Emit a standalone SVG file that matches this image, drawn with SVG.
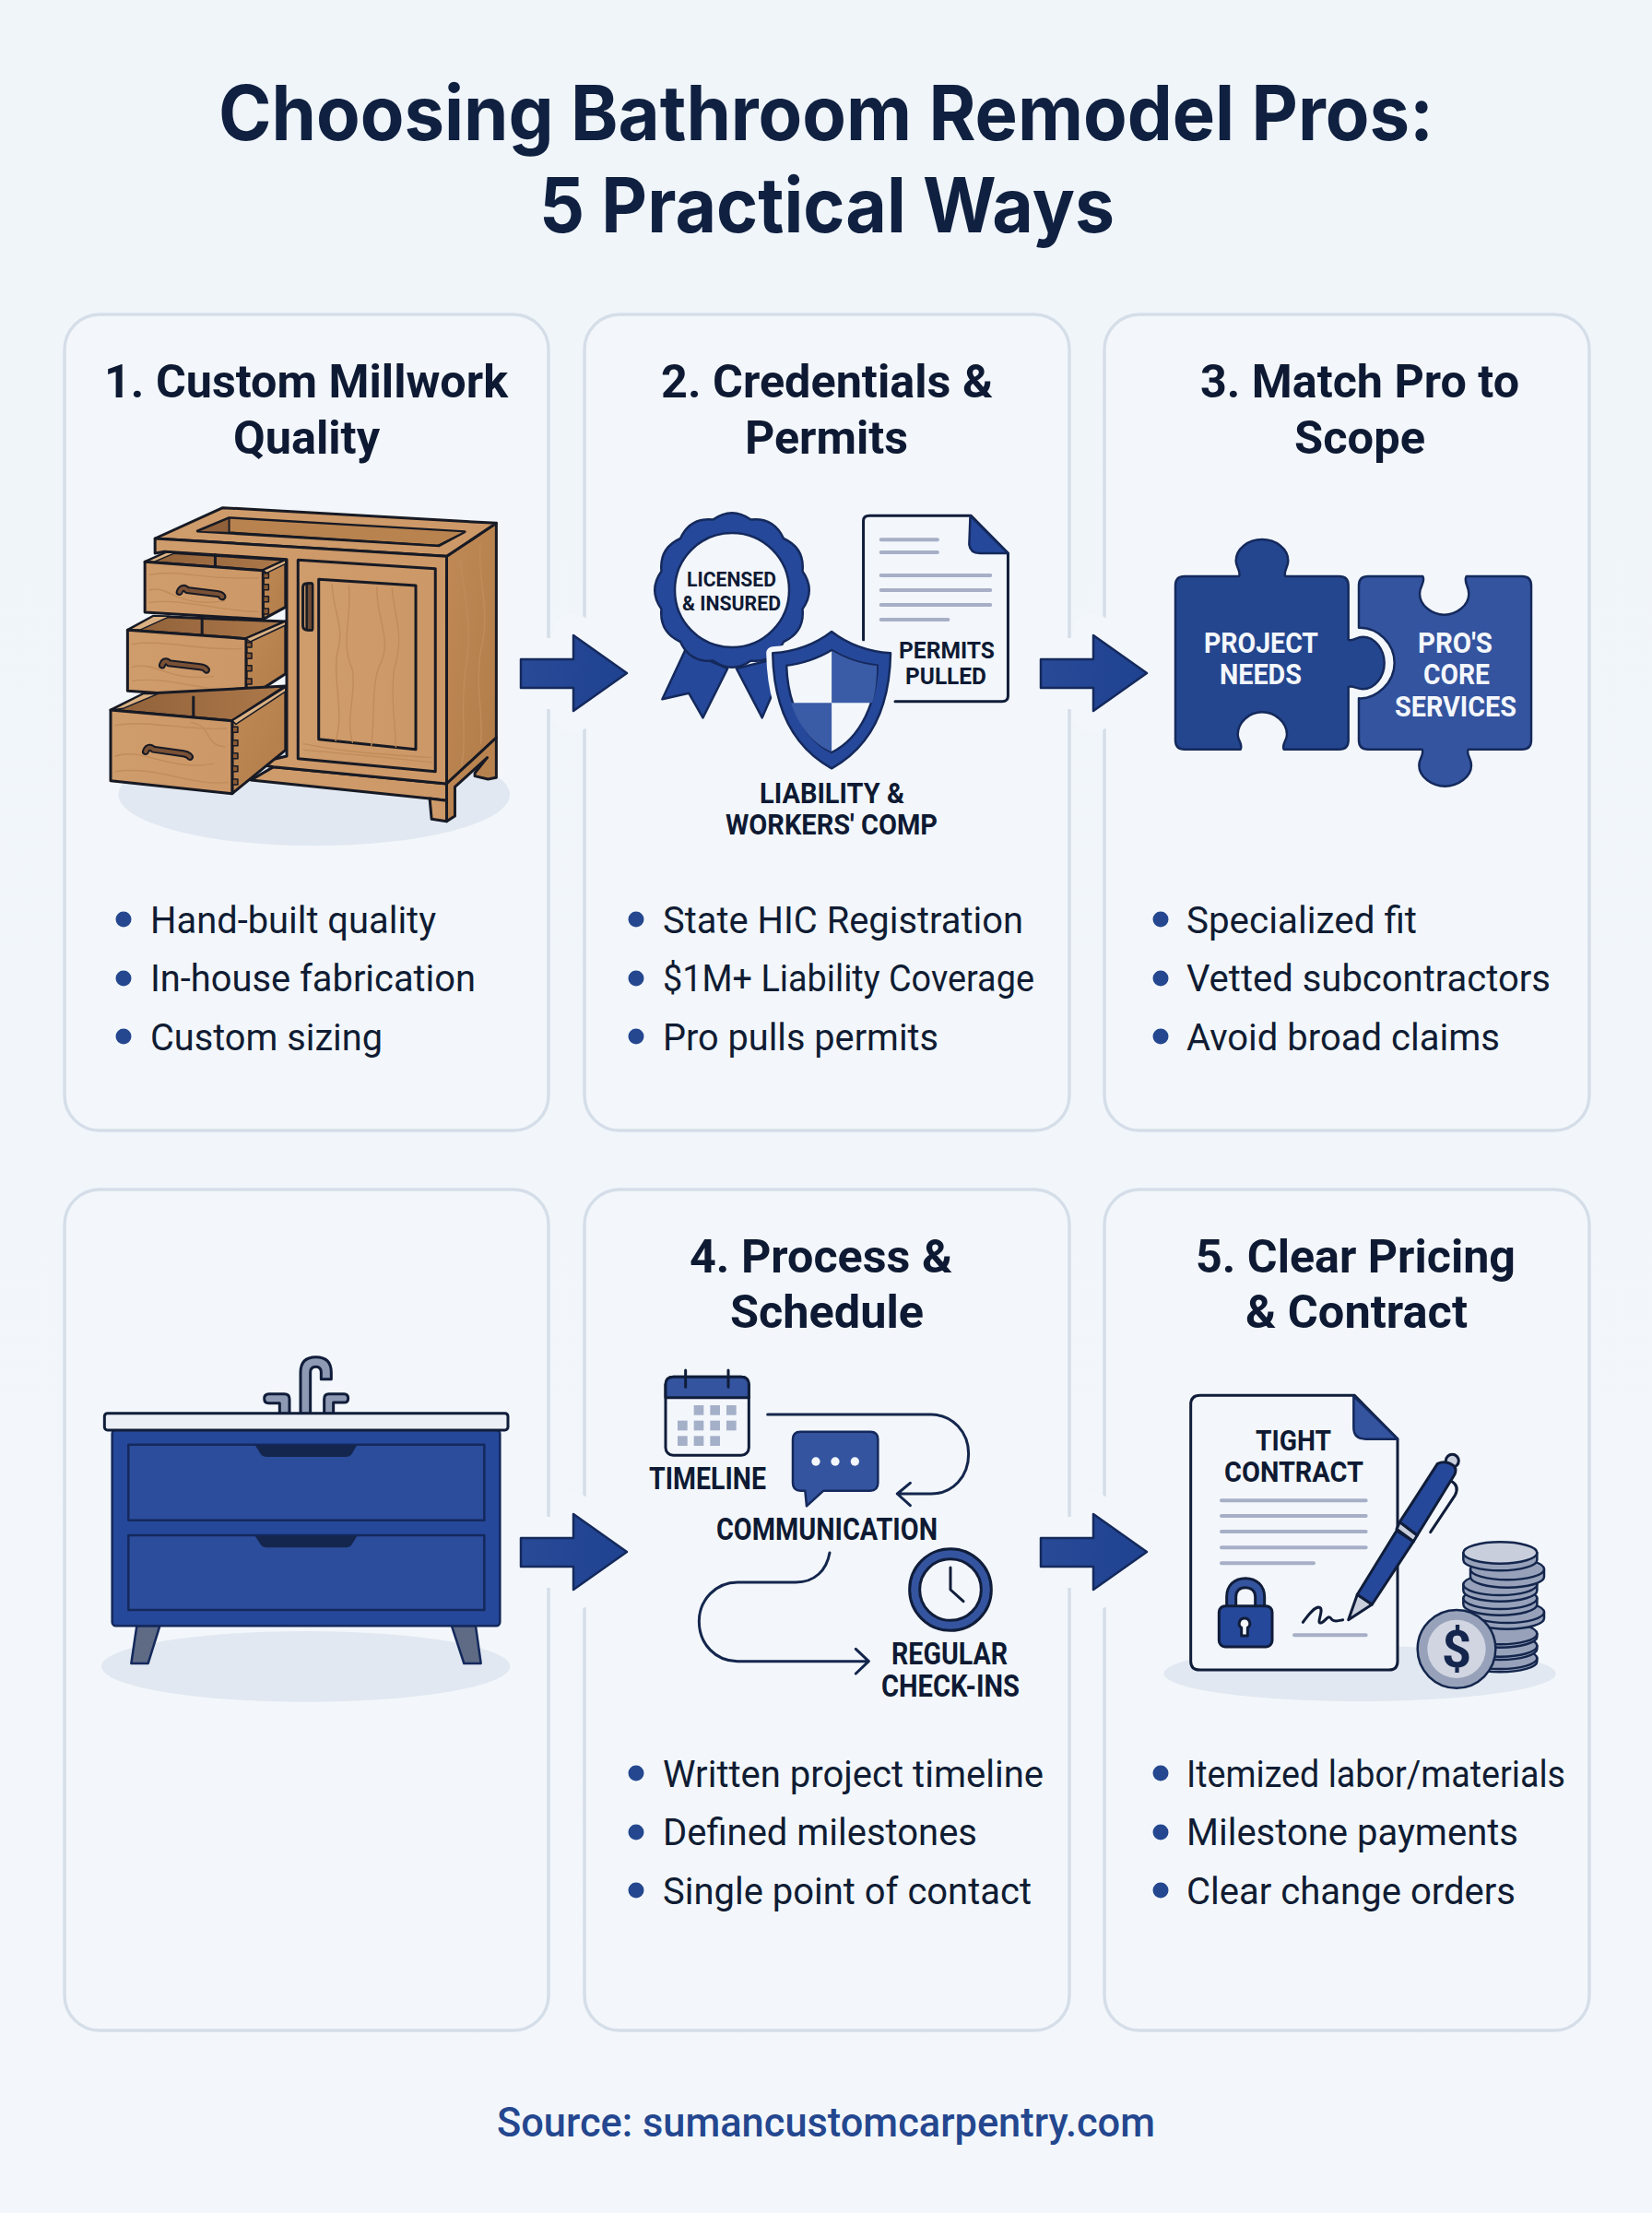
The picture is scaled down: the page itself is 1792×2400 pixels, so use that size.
<svg xmlns="http://www.w3.org/2000/svg" width="1792" height="2400" viewBox="0 0 1792 2400">
<style>
text{font-family:Roboto,"Liberation Sans",sans-serif}
.title{font-family:Inter,Roboto,sans-serif;font-size:82px;font-weight:700;fill:#0f2040}
.h{font-size:50px;font-weight:700;fill:#0e1a33}
.b{font-size:40px;font-weight:400;fill:#101c33}
.l{font-weight:700;fill:#0e1a33}
.w{font-weight:700;fill:#f4f7fb}
.src{font-size:44px;font-weight:500;fill:#24478f}
.card{fill:#f3f7fb;stroke:#d5dee8;stroke-width:3.5}
.dot{fill:#24478f}
.z *{vector-effect:non-scaling-stroke;stroke-linejoin:round;stroke-linecap:round}
.o{stroke:#101d3a;stroke-width:3}
.o2{stroke:#14295c;stroke-width:2.5}
.wood{fill:url(#wood);stroke:#171a24;stroke-width:3}
.wood2{fill:url(#wood2);stroke:#171a24;stroke-width:3}
.dark{fill:url(#inner);stroke:#171a24;stroke-width:3}
.lite{fill:#dcb284;stroke:#171a24;stroke-width:1.5}
.dt{fill:#8a5a34;stroke:#171a24;stroke-width:1.5}
.grain{fill:none;stroke:#c08c5a;stroke-width:1.4}
.blue{fill:#26489a}
.blue2{fill:#34549f}
.paper{fill:#f3f6fb}
.gl{stroke:#a6afc6;stroke-width:4;fill:none}
.sq{fill:#a4afc8}
.flow{fill:none;stroke:#14264d;stroke-width:3}
.shadow{fill:#e1e8f1}
.coin{fill:#97a2ba;stroke:#14264d;stroke-width:2.5}
.arrow{fill:url(#arr);stroke:#14295c;stroke-width:2.5;stroke-linejoin:round}
.halo{fill:#f3f7fb;stroke:#f3f7fb;stroke-width:46;stroke-linejoin:round}
.hnd{fill:none;stroke:#171a24;stroke-width:8}
.hnd2{fill:none;stroke:#7a5136;stroke-width:4}
</style>
<defs>
<linearGradient id="bg" x1="0" y1="0" x2="0" y2="1"><stop offset="0" stop-color="#f0f5fa"/><stop offset="1" stop-color="#f3f7fc"/></linearGradient>
<linearGradient id="wood" x1="0" y1="0" x2="1" y2="0"><stop offset="0" stop-color="#cf9c6b"/><stop offset="1" stop-color="#cd9867"/></linearGradient>
<linearGradient id="wood2" x1="0" y1="0" x2="1" y2="1"><stop offset="0" stop-color="#c08a56"/><stop offset="1" stop-color="#b27c49"/></linearGradient>
<linearGradient id="inner" x1="0" y1="0" x2="1" y2="0"><stop offset="0" stop-color="#8f6039"/><stop offset="1" stop-color="#ad794a"/></linearGradient>
<linearGradient id="arr" x1="0" y1="0" x2="1" y2="0"><stop offset="0" stop-color="#284a97"/><stop offset="1" stop-color="#1f4291"/></linearGradient>
<polygon id="arrowshape" points="0,-15 57,-15 57,-41 115,0 57,41 57,16 0,16"/>
</defs>
<rect width="1792" height="2400" fill="url(#bg)"/>
<g id="title"><text class="title" x="237" y="152" textLength="1318" lengthAdjust="spacingAndGlyphs">Choosing Bathroom Remodel Pros:</text>
<text class="title" x="585" y="252" textLength="624" lengthAdjust="spacingAndGlyphs">5 Practical Ways</text></g>

<g id="card-frames">
<rect class="card" x="70" y="341" width="525" height="885" rx="38"/>
<rect class="card" x="634" y="341" width="526" height="885" rx="38"/>
<rect class="card" x="1198" y="341" width="526" height="885" rx="38"/>
<rect class="card" x="70" y="1290" width="525" height="912" rx="38"/>
<rect class="card" x="634" y="1290" width="526" height="912" rx="38"/>
<rect class="card" x="1198" y="1290" width="526" height="912" rx="38"/>
</g>
<g id="arrow-gaps">
<use href="#arrowshape" class="halo" transform="translate(565,730)"/>
<use href="#arrowshape" class="halo" transform="translate(1129,730)"/>
<use href="#arrowshape" class="halo" transform="translate(565,1683)"/>
<use href="#arrowshape" class="halo" transform="translate(1129,1683)"/>
</g>

<g id="card-1">
<text class="h" x="113" y="431" textLength="438" lengthAdjust="spacingAndGlyphs">1. Custom Millwork</text>
<text class="h" x="253" y="492" textLength="159" lengthAdjust="spacingAndGlyphs">Quality</text>
<g class="z" transform="translate(60,520) scale(.40816,.33333)">
<ellipse class="shadow" cx="688" cy="1025" rx="520" ry="167"/>
<polygon class="wood2" points="1040,250 1172,142 1172,840 1040,990"/>
<polygon class="wood2" points="1040,990 1172,840 1172,970 1150,975 1115,965 1115,955 1148,905 1062,1000 1062,1095 1040,1112"/>
<polygon class="wood" points="580,935 1040,990 1040,1045 995,1038 520,978"/>
<polygon class="wood" points="995,1038 1040,1045 1040,1112 1000,1105"/>
<polygon class="wood" points="445,92 1172,142 1040,250 265,192"/>
<polygon class="dark" points="462,125 1088,170 1020,215 378,168"/>
<polygon fill="#8f6039" points="462,128 462,170 385,168"/>
<polygon fill="#b9834f" points="462,128 462,170 1015,212 1082,172"/>
<path d="M462,125V172L1020,215" fill="none" stroke="#171a24" stroke-width="2"/>
<polygon class="wood" points="265,192 1040,250 1040,990 580,935 530,925 615,900 615,260 290,235 265,240"/>
<polygon class="wood" points="645,262 1010,290 1010,950 645,908"/>
<polygon class="wood" points="700,325 958,345 958,878 700,845"/>
<path class="grain" d="M735,340C740,440 770,480 750,560C735,640 770,760 745,850M780,345C790,460 755,520 790,620C800,700 770,780 790,855M855,350C850,450 900,520 860,610C840,680 850,760 840,865M895,352C900,450 930,500 900,620C890,720 905,800 905,870M1075,260C1090,400 1110,480 1090,620C1075,760 1095,840 1080,930M1130,210C1120,330 1160,420 1130,560C1115,680 1140,780 1130,860M660,880C760,890 880,905 1000,920M660,860C740,880 800,890 1000,905"/>
<path d="M682,338H668Q658,338 658,352V475Q658,490 670,490H682" fill="none" stroke="#171a24" stroke-width="3"/>
<rect x="668" y="338" width="16" height="152" rx="5" fill="#6b4a33" stroke="#171a24" stroke-width="2.5"/>
<!-- drawer 1 -->
<polygon class="dark" points="238,268 295,237 612,262 552,296"/>
<polygon class="wood2" points="552,296 612,262 612,415 552,455"/>
<polygon class="lite" points="552,296 612,262 612,274 562,304"/>
<polygon class="lite" points="240,268 262,268 320,238 295,237"/>
<polygon class="wood" points="238,268 552,296 552,455 238,432"/>
<path d="M425,245V282" stroke="#171a24" stroke-width="3" fill="none"/>
<rect class="dt" x="553" y="305" width="14" height="16"/><rect class="dt" x="553" y="341" width="14" height="18"/><rect class="dt" x="553" y="380" width="14" height="18"/><rect class="dt" x="553" y="420" width="14" height="18"/>
<path class="grain" d="M250,310C330,290 400,330 540,320M250,360C300,340 320,420 450,395M250,400C340,385 440,430 540,430"/>
<path class="hnd" d="M330,366C335,349 345,352 350,360L430,372C445,374 447,385 442,381"/><path class="hnd2" d="M330,366C335,349 345,352 350,360L430,372C445,374 447,385 442,381"/>
<!-- drawer 2 -->
<polygon class="dark" points="192,490 260,445 612,462 507,518"/>
<polygon class="wood2" points="507,518 612,462 612,632 507,715"/>
<polygon class="lite" points="507,518 612,462 612,474 518,528"/>
<polygon class="lite" points="194,490 228,488 305,445 260,445"/>
<polygon class="wood" points="192,490 507,518 507,715 192,688"/>
<path d="M390,450V502" stroke="#171a24" stroke-width="3" fill="none"/>
<rect class="dt" x="508" y="530" width="14" height="16"/><rect class="dt" x="508" y="565" width="14" height="18"/><rect class="dt" x="508" y="605" width="14" height="18"/><rect class="dt" x="508" y="648" width="14" height="18"/><rect class="dt" x="508" y="688" width="14" height="16"/>
<path class="grain" d="M205,535C290,520 400,560 495,550M205,610C270,590 300,660 420,640M205,655C300,640 400,690 495,690"/>
<path class="hnd" d="M284,604C288,587 298,590 302,598L385,610C402,612 404,625 400,618"/><path class="hnd2" d="M284,604C288,587 298,590 302,598L385,610C402,612 404,625 400,618"/>
<!-- drawer 3 -->
<polygon class="dark" points="147,750 235,697 612,672 470,785"/>
<polygon class="wood2" points="470,785 612,682 612,880 470,1022"/>
<polygon class="lite" points="470,785 612,676 612,690 480,796"/>
<polygon class="lite" points="150,750 180,745 272,698 235,697"/>
<polygon class="wood" points="147,750 470,785 470,1022 147,980"/>
<path d="M367,708V770" stroke="#171a24" stroke-width="3" fill="none"/>
<rect class="dt" x="471" y="805" width="14" height="18"/><rect class="dt" x="471" y="848" width="14" height="18"/><rect class="dt" x="471" y="890" width="14" height="18"/><rect class="dt" x="471" y="932" width="14" height="18"/><rect class="dt" x="471" y="975" width="14" height="18"/>
<path class="grain" d="M160,800C250,780 360,820 455,810M160,900C230,870 300,950 420,925M160,950C270,930 360,1000 460,985M360,790C420,800 390,860 450,870"/>
<path class="hnd" d="M240,885C245,868 255,870 260,878L340,892C358,895 360,908 356,900"/><path class="hnd2" d="M240,885C245,868 255,870 260,878L340,892C358,895 360,908 356,900"/>
</g>
<circle class="dot" cx="134" cy="997" r="8.5"/><circle class="dot" cx="134" cy="1061" r="8.5"/><circle class="dot" cx="134" cy="1124" r="8.5"/>
<text class="b" x="163" y="1012" textLength="310" lengthAdjust="spacingAndGlyphs">Hand-built quality</text>
<text class="b" x="163" y="1075" textLength="353" lengthAdjust="spacingAndGlyphs">In-house fabrication</text>
<text class="b" x="163" y="1139" textLength="252" lengthAdjust="spacingAndGlyphs">Custom sizing</text>
</g>

<g id="card-2">
<text class="h" x="717" y="431" textLength="360" lengthAdjust="spacingAndGlyphs">2. Credentials &amp;</text>
<text class="h" x="808" y="492" textLength="177" lengthAdjust="spacingAndGlyphs">Permits</text>
<g class="z" transform="translate(640,520) scale(.38265,.33333)">
<path class="blue o2" d="M270,555L205,715L280,695L320,775L390,615Z"/>
<path class="blue o2" d="M415,615L488,775L520,690L520,585Z"/>
<path class="paper" d="M775,522V135Q775,118 792,118H1080L1185,240V705Q1185,722 1168,722H860V600H775Z"/>
<path fill="none" class="o" d="M775,522V135Q775,118 792,118H1080L1185,240V705Q1185,722 1168,722H865"/>
<path class="blue o2" d="M1078,118L1185,240H1105Q1078,240 1075,212Z"/>
<path class="gl" d="M825,196H985M825,237H985M825,312H1135M825,360H1135M825,408H1135M825,456H1015"/>
</g>
<g transform="translate(794,640)"><path class="blue o2" d="M76.5,-20.5Q91,0 76.5,20.5Q79,45.500 56,56Q45.500,79 20.500,76.500Q0,91 -20.500,76.500Q-45.500,79 -56,56Q-79,45.500 -76.500,20.500Q-91,0 -76.500,-20.500Q-79,-45.500 -56,-56Q-45.500,-79 -20.500,-76.500Q0,-91 20.500,-76.500Q45.500,-79 56,-56Q79,-45.500 76.500,-20.500Z"/><circle r="62" fill="#f3f6fb" stroke="#14295c" stroke-width="2.500"/></g>
<g class="z" transform="translate(640,520) scale(.38265,.33333)">
<path d="M685,495C640,535 580,560 518,565C520,720 560,860 685,940C810,860 850,720 852,565C790,560 730,535 685,495Z" fill="#f3f7fb" stroke="#f3f7fb" stroke-width="14"/>
<path class="blue o2" d="M685,495C640,535 580,560 518,565C520,720 560,860 685,940C810,860 850,720 852,565C790,560 730,535 685,495Z"/>
<path fill="#f3f6fb" stroke="#14295c" stroke-width="2.500" d="M685,555C650,580 600,600 557,605C560,720 600,840 685,888C770,840 812,720 815,605C770,600 720,580 685,555Z"/>
<path fill="#3a5ba6" d="M685,557C720,582 770,601 813,606C813,650 810,690 800,727H685Z"/>
<path fill="#3a5ba6" d="M685,727H570C590,800 630,860 685,886Z"/>
</g>
<text class="l" font-size="22.500" x="745" y="636" textLength="97" lengthAdjust="spacingAndGlyphs">LICENSED</text>
<text class="l" font-size="22.500" x="740" y="662" textLength="107" lengthAdjust="spacingAndGlyphs">&amp; INSURED</text>
<text class="l" font-size="26.500" x="975" y="714" textLength="104" lengthAdjust="spacingAndGlyphs">PERMITS</text>
<text class="l" font-size="26.500" x="982" y="742" textLength="88" lengthAdjust="spacingAndGlyphs">PULLED</text>
<text class="l" font-size="31" x="824" y="871" textLength="157" lengthAdjust="spacingAndGlyphs">LIABILITY &amp;</text>
<text class="l" font-size="31" x="787" y="905" textLength="230" lengthAdjust="spacingAndGlyphs">WORKERS' COMP</text>
<circle class="dot" cx="690" cy="997" r="8.5"/><circle class="dot" cx="690" cy="1061" r="8.5"/><circle class="dot" cx="690" cy="1124" r="8.5"/>
<text class="b" x="719" y="1012" textLength="391" lengthAdjust="spacingAndGlyphs">State HIC Registration</text>
<text class="b" x="719" y="1075" textLength="403" lengthAdjust="spacingAndGlyphs">$1M+ Liability Coverage</text>
<text class="b" x="719" y="1139" textLength="299" lengthAdjust="spacingAndGlyphs">Pro pulls permits</text>
</g>

<g id="card-3">
<text class="h" x="1302" y="431" textLength="346" lengthAdjust="spacingAndGlyphs">3. Match Pro to</text>
<text class="h" x="1404" y="492" textLength="142" lengthAdjust="spacingAndGlyphs">Scope</text>
<g class="z" transform="translate(1200,540) scale(.33333)">
<path class="o2" style="fill:#24468f" d="M255,255L432,255C440,240 422,225 422,205C422,165 462,135 507,135C552,135 592,165 592,205C592,225 575,240 583,255L758,255Q788,255 788,285L788,462C800,468 815,452 835,452C875,452 905,495 905,537C905,580 875,622 835,622C815,622 800,608 788,615L788,788Q788,818 758,818L578,818C570,800 588,790 588,770C588,730 550,697 507,697C465,697 428,730 428,770C428,790 445,800 437,818L255,818Q225,818 225,788L225,285Q225,255 255,255Z"/>
<path class="blue2 o2" d="M852,255L1030,255C1040,275 1020,285 1020,312C1020,350 1060,380 1100,380C1140,380 1180,350 1180,312C1180,285 1162,275 1172,255L1353,255Q1383,255 1383,285L1383,788Q1383,818 1353,818L1178,818C1170,835 1188,845 1188,870C1188,908 1145,938 1102,938C1060,938 1018,908 1018,870C1018,845 1036,835 1028,818L852,818Q822,818 822,788L822,652C880,655 938,600 938,537C938,475 885,420 822,422L822,285Q822,255 852,255Z"/>
</g>
<text class="w" font-size="32" x="1306" y="708" textLength="124" lengthAdjust="spacingAndGlyphs">PROJECT</text>
<text class="w" font-size="32" x="1323" y="742" textLength="89" lengthAdjust="spacingAndGlyphs">NEEDS</text>
<text class="w" font-size="32" x="1538" y="708" textLength="81" lengthAdjust="spacingAndGlyphs">PRO'S</text>
<text class="w" font-size="32" x="1544" y="742" textLength="72" lengthAdjust="spacingAndGlyphs">CORE</text>
<text class="w" font-size="32" x="1513" y="777" textLength="132" lengthAdjust="spacingAndGlyphs">SERVICES</text>
<circle class="dot" cx="1259" cy="997" r="8.5"/><circle class="dot" cx="1259" cy="1061" r="8.5"/><circle class="dot" cx="1259" cy="1124" r="8.5"/>
<text class="b" x="1287" y="1012" textLength="250" lengthAdjust="spacingAndGlyphs">Specialized fit</text>
<text class="b" x="1287" y="1075" textLength="395" lengthAdjust="spacingAndGlyphs">Vetted subcontractors</text>
<text class="b" x="1287" y="1139" textLength="340" lengthAdjust="spacingAndGlyphs">Avoid broad claims</text>
</g>

<g id="card-vanity">
<g class="z" transform="translate(90,1460) scale(.33333)">
<ellipse class="shadow" cx="725" cy="1042" rx="665" ry="115"/>
<path fill="#5f6b85" class="o2" d="M175,910H250L212,1032H157Z"/>
<path fill="#5f6b85" class="o2" d="M1200,910H1278L1295,1032H1240Z"/>
<path fill="#8e99b3" class="o" d="M708,220V85Q708,35 758,35Q808,35 808,85V107H775V85Q775,67 758,67Q740,67 740,85V220Z"/>
<path fill="#8e99b3" class="o" d="M640,220V185H605Q590,185 590,170Q590,155 605,155H655Q672,155 672,172V220Z"/>
<path fill="#8e99b3" class="o" d="M785,220V172Q785,155 800,155H850Q863,155 863,170Q863,183 850,183H815V220Z"/>
<rect x="95" y="272" width="1262" height="638" rx="12" class="blue o2"/>
<rect x="148" y="320" width="1158" height="246" fill="#2c4d9c" class="o2"/>
<rect x="148" y="615" width="1158" height="243" fill="#2c4d9c" class="o2"/>
<path fill="#14264d" d="M560,322H892L875,350Q868,360 855,360H600Q585,360 578,350Z"/>
<path fill="#14264d" d="M560,617H892L875,645Q868,655 855,655H600Q585,655 578,645Z"/>
<rect x="70" y="218" width="1313" height="55" rx="10" fill="#eceff5" class="o"/>
</g>
</g>

<g id="card-4">
<text class="h" x="748" y="1380" textLength="285" lengthAdjust="spacingAndGlyphs">4. Process &amp;</text>
<text class="h" x="792" y="1440" textLength="210" lengthAdjust="spacingAndGlyphs">Schedule</text>
<g class="z" transform="translate(660,1460) scale(.33333)">
<rect x="186" y="100" width="271" height="255" rx="25" fill="#f3f6fb" class="o"/>
<path class="blue2 o" d="M186,167V125Q186,100 211,100H432Q457,100 457,125V167Z"/>
<path d="M251,78V133M390,78V133" class="o" fill="none"/>
<g class="sq"><rect x="278" y="192" width="32" height="32"/><rect x="331" y="192" width="32" height="32"/><rect x="384" y="192" width="32" height="32"/><rect x="225" y="242" width="32" height="32"/><rect x="278" y="242" width="32" height="32"/><rect x="331" y="242" width="32" height="32"/><rect x="384" y="242" width="32" height="32"/><rect x="225" y="292" width="32" height="32"/><rect x="278" y="292" width="32" height="32"/><rect x="331" y="292" width="32" height="32"/></g>
<path class="blue2 o2" d="M625,278H852Q877,278 877,303V445Q877,470 852,470H700L645,520L640,470H625Q600,470 600,445V303Q600,278 625,278Z"/>
<circle cx="675" cy="375" r="14" fill="#f3f6fb"/><circle cx="738" cy="375" r="14" fill="#f3f6fb"/><circle cx="802" cy="375" r="14" fill="#f3f6fb"/>
<circle cx="1113" cy="792" r="133" class="blue2 o"/><circle cx="1113" cy="792" r="100" fill="#f3f6fb" class="o"/>
<path d="M1113,720V792L1155,830" fill="none" class="o"/>
</g>
<text class="l" font-size="33" x="704" y="1615" textLength="127" lengthAdjust="spacingAndGlyphs">TIMELINE</text>
<text class="l" font-size="33" x="777" y="1670" textLength="240" lengthAdjust="spacingAndGlyphs">COMMUNICATION</text>
<text class="l" font-size="33" x="967" y="1805" textLength="126" lengthAdjust="spacingAndGlyphs">REGULAR</text>
<text class="l" font-size="33" x="956" y="1840" textLength="150" lengthAdjust="spacingAndGlyphs">CHECK-INS</text>
<circle class="dot" cx="690" cy="1923" r="8.5"/><circle class="dot" cx="690" cy="1987" r="8.5"/><circle class="dot" cx="690" cy="2050" r="8.5"/>
<text class="b" x="719" y="1938" textLength="413" lengthAdjust="spacingAndGlyphs">Written project timeline</text>
<text class="b" x="719" y="2001" textLength="341" lengthAdjust="spacingAndGlyphs">Defined milestones</text>
<text class="b" x="719" y="2065" textLength="400" lengthAdjust="spacingAndGlyphs">Single point of contact</text>
</g>

<g id="card-5">
<text class="h" x="1297" y="1380" textLength="347" lengthAdjust="spacingAndGlyphs">5. Clear Pricing</text>
<text class="h" x="1351" y="1440" textLength="241" lengthAdjust="spacingAndGlyphs">&amp; Contract</text>
<g class="z" transform="translate(1240,1490) scale(.33333)">
<ellipse class="shadow" cx="705" cy="975" rx="638" ry="90"/>
<path class="paper o" d="M185,70H688L828,212V935Q828,963 800,963H185Q155,963 155,935V100Q155,70 185,70Z"/>
<path class="blue2 o2" d="M685,72L828,212H725Q685,212 685,175Z"/>
<path class="gl" d="M255,412H725M255,462H725M255,513H725M255,565H725M255,616H555M492,850H725"/>
<path class="blue2 o" d="M272,760V725C272,690 295,665 333,665C370,665 395,690 395,725V760H365V725C365,705 350,695 333,695C315,695 302,705 302,725V760Z"/>
<rect x="247" y="755" width="173" height="133" rx="20" class="blue o"/>
<path d="M330,795a17,17 0 0 1 10,31v26h-20v-26a17,17 0 0 1 10,-31Z" fill="#f3f6fb" class="o"/>
<path d="M520,808C540,780 560,755 575,760C590,768 560,815 580,810C600,800 600,780 615,800C625,808 640,802 650,800" fill="none" class="o"/>
<circle cx="1006" cy="283" r="21" fill="#c8cedc" class="o"/>
<path d="M1005,350Q1030,365 1015,395L935,515" fill="none" class="o"/>
<path d="M668,800L697,718L745,750Z" fill="#c8cedc" class="o"/>
<path class="blue o" d="M697,718L825,510L880,545L745,750Z"/>
<path d="M825,505L835,482L892,525L880,545Z" fill="#c8cedc" class="o"/>
<path class="blue o" d="M835,482L958,292Q985,280 1012,300Q1022,312 1012,330L892,525Z"/>
<g id="coins">
<path class="coin" d="M1042,925V935A120,35 0 0 0 1282,935V925Z"/><ellipse class="coin" cx="1162" cy="925" rx="120" ry="35"/>
<path class="coin" d="M1042,885V895A120,35 0 0 0 1282,895V885Z"/><ellipse class="coin" cx="1162" cy="885" rx="120" ry="35"/>
<path class="coin" d="M1042,845V855A120,35 0 0 0 1282,855V845Z"/><ellipse class="coin" cx="1162" cy="845" rx="120" ry="35"/>
<path class="coin" d="M1065,775V795A120,35 0 0 0 1305,795V775Z"/><ellipse class="coin" cx="1185" cy="775" rx="120" ry="35"/>
<path class="coin" d="M1042,730V750A120,35 0 0 0 1282,750V730Z"/><ellipse class="coin" cx="1162" cy="730" rx="120" ry="35"/>
<path class="coin" d="M1042,685V705A120,35 0 0 0 1282,705V685Z"/><ellipse class="coin" cx="1162" cy="685" rx="120" ry="35"/>
<path class="coin" d="M1065,635V660A120,35 0 0 0 1305,660V635Z"/><ellipse class="coin" cx="1185" cy="635" rx="120" ry="35"/>
<path class="coin" d="M1042,582V605A120,35 0 0 0 1282,605V582Z"/><ellipse cx="1162" cy="582" rx="120" ry="35" fill="#c8cedc" stroke="#14264d" stroke-width="2.5"/>
</g>
<circle cx="1020" cy="895" r="127" class="coin"/><circle cx="1020" cy="895" r="95" fill="#d0d5e1"/>
</g>
<text font-size="56" font-weight="700" fill="#14264d" x="1580" y="1808" text-anchor="middle">$</text>
<text class="l" font-size="32" x="1362" y="1573" textLength="82" lengthAdjust="spacingAndGlyphs">TIGHT</text>
<text class="l" font-size="32" x="1328" y="1607" textLength="151" lengthAdjust="spacingAndGlyphs">CONTRACT</text>
<circle class="dot" cx="1259" cy="1923" r="8.5"/><circle class="dot" cx="1259" cy="1987" r="8.5"/><circle class="dot" cx="1259" cy="2050" r="8.5"/>
<text class="b" x="1287" y="1938" textLength="411" lengthAdjust="spacingAndGlyphs">Itemized labor/materials</text>
<text class="b" x="1287" y="2001" textLength="360" lengthAdjust="spacingAndGlyphs">Milestone payments</text>
<text class="b" x="1287" y="2065" textLength="357" lengthAdjust="spacingAndGlyphs">Clear change orders</text>
</g>

<g id="connectors">
<use href="#arrowshape" class="arrow" transform="translate(565,730)"/>
<use href="#arrowshape" class="arrow" transform="translate(1129,730)"/>
<use href="#arrowshape" class="arrow" transform="translate(565,1683)"/>
<use href="#arrowshape" class="arrow" transform="translate(1129,1683)"/>
<g class="z" transform="translate(660,1460) scale(.33333)">
<path class="flow" d="M518,222H1050C1120,222 1172,280 1172,350C1172,425 1120,480 1050,480H940M982,445L940,480L982,518"/>
<path class="flow" d="M720,672C710,730 670,768 610,768H420C350,768 295,825 295,895C295,970 350,1025 420,1025H845M805,985L847,1025L805,1065"/>
</g>
</g>
<text id="source" class="src" x="539" y="2317" textLength="714" lengthAdjust="spacingAndGlyphs">Source: sumancustomcarpentry.com</text>
</svg>
